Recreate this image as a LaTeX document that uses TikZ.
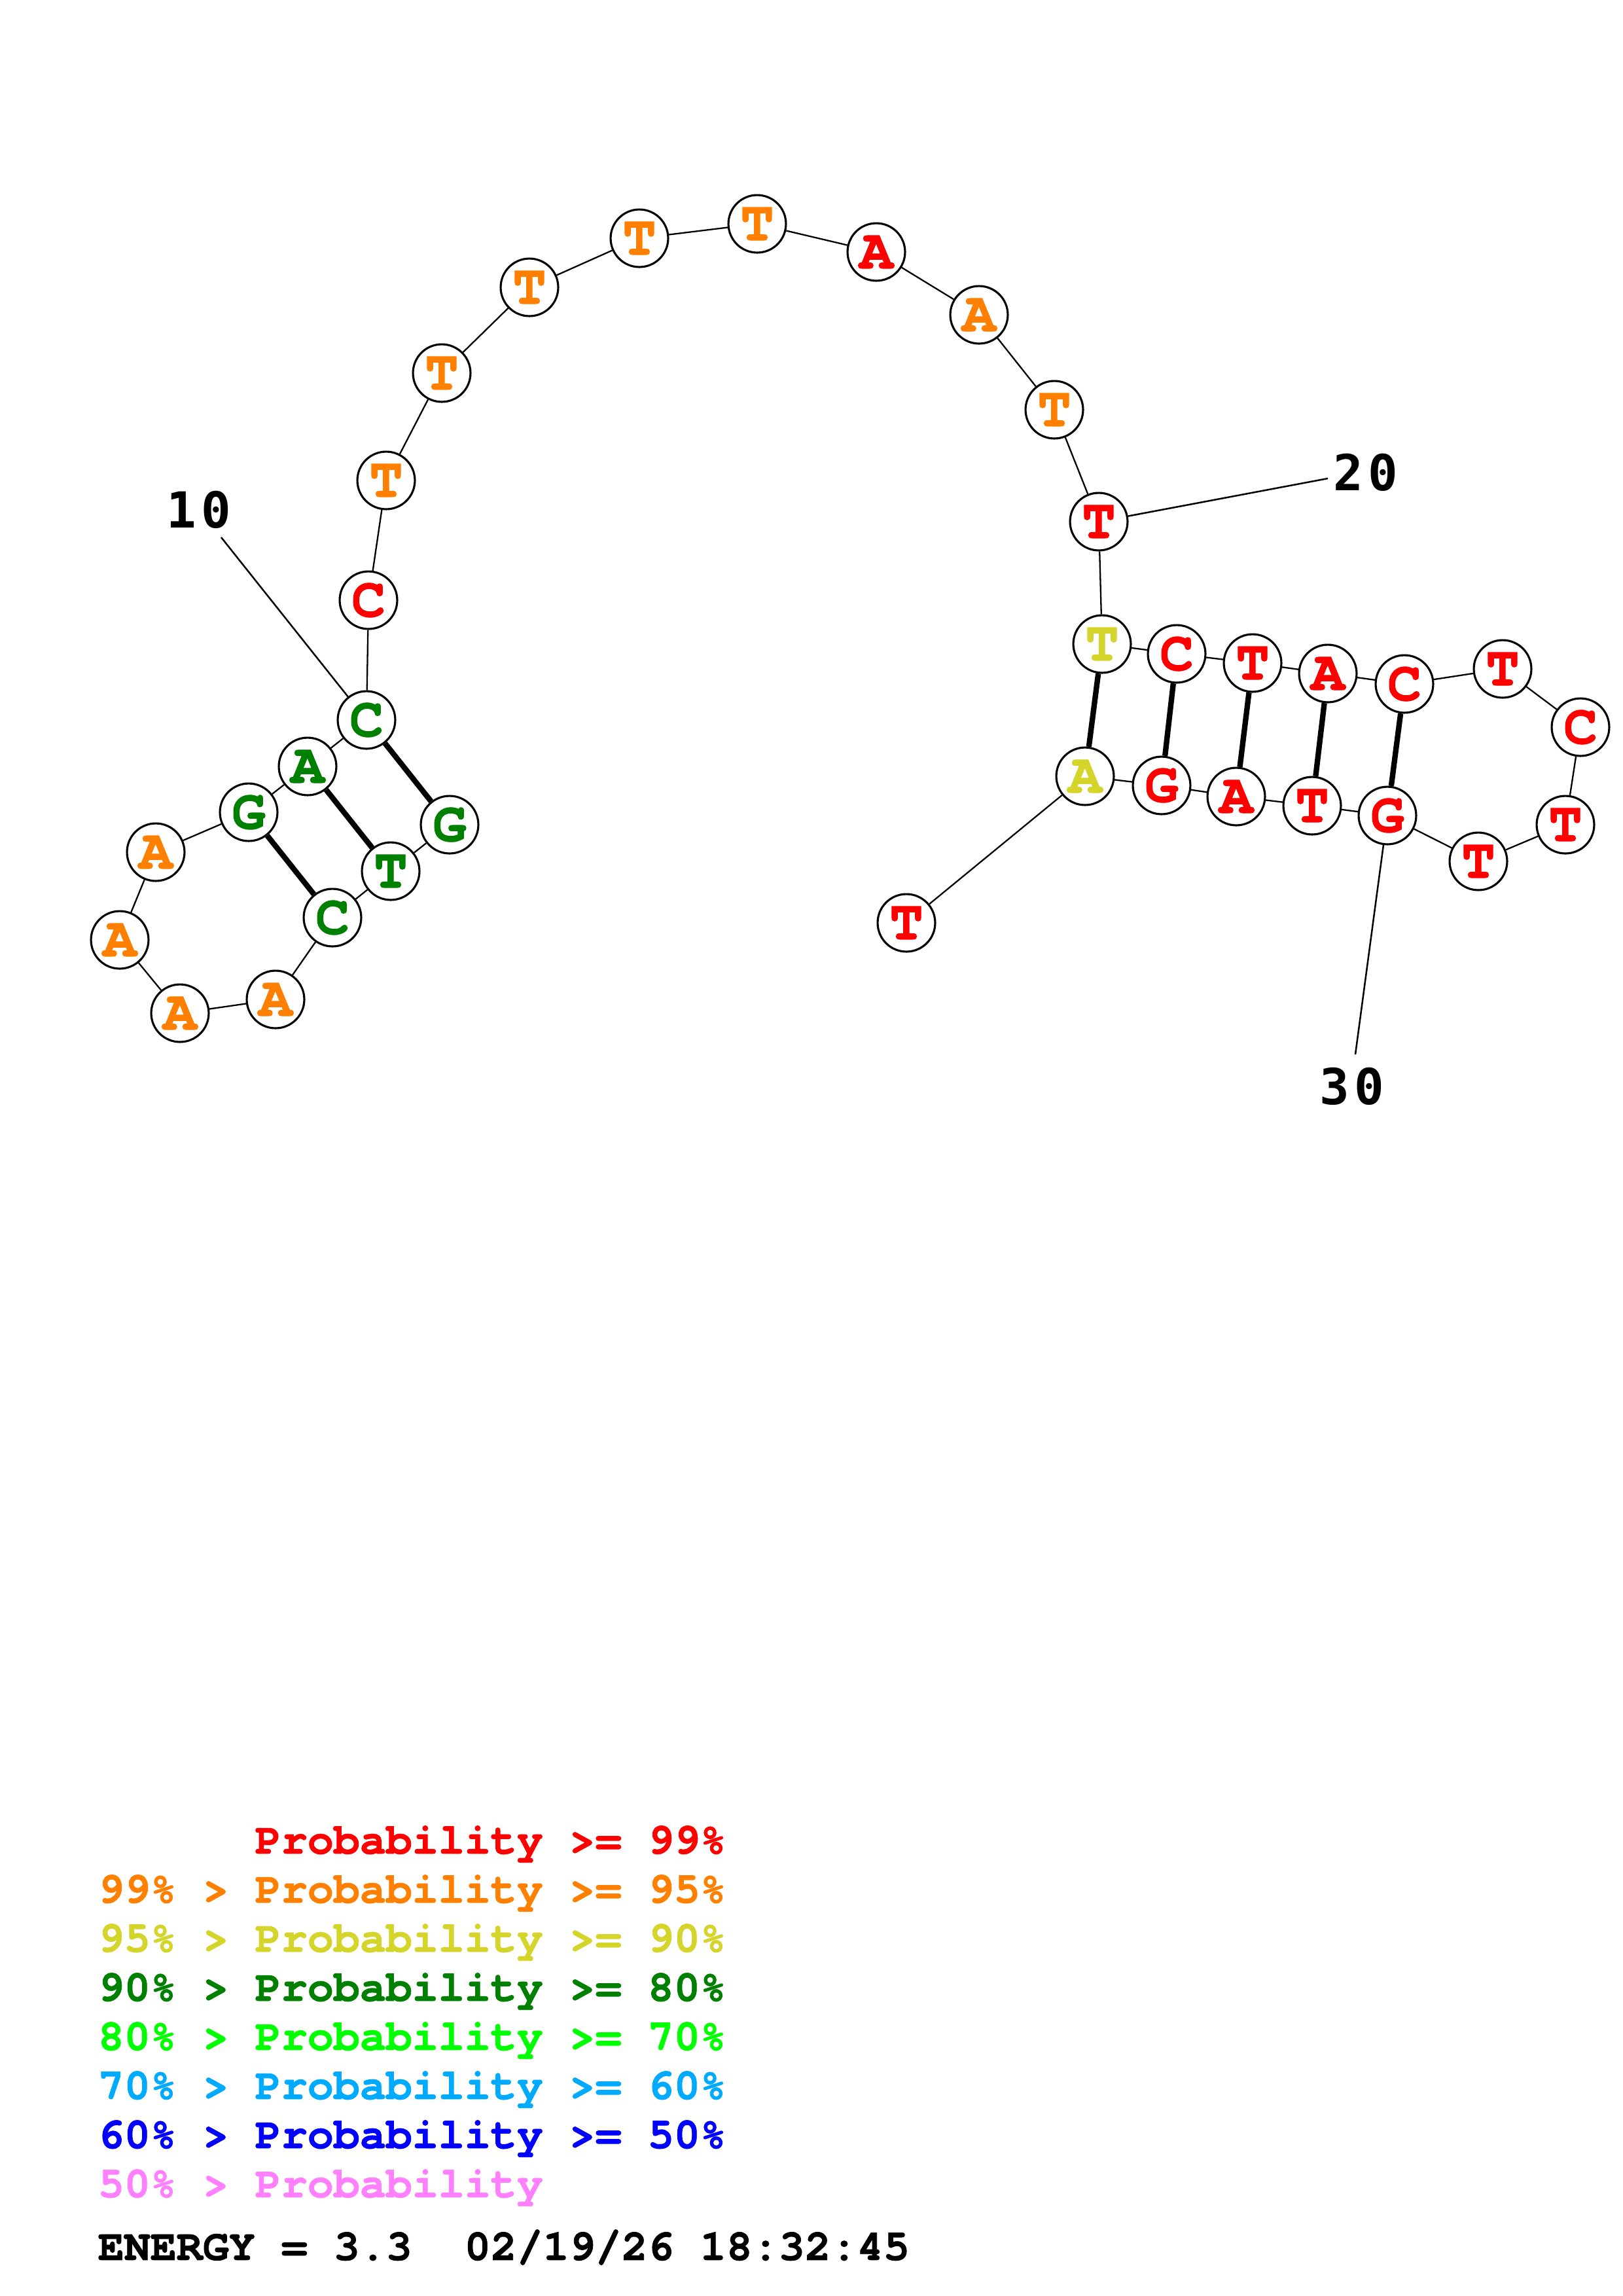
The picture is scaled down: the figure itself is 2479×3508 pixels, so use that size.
\documentclass[tikz,border=0pt]{standalone}
\usepackage{fontspec}
\usepackage{tikz}
\usetikzlibrary{positioning}
\newfontfamily\courierFont{TeX Gyre Cursor}[BoldFeatures={FakeBold=1.2}]
\newfontfamily\numberFont{DejaVu Sans Mono}[LetterSpace=10]
\definecolor{probRed}{RGB}{255,0,0}
\definecolor{probOrange}{RGB}{255,128,0}
\definecolor{probYellow}{RGB}{212,212,42}
\definecolor{probGreen}{RGB}{0,128,0}
\definecolor{probLime}{RGB}{0,255,0}
\definecolor{probSky}{RGB}{0,170,255}
\definecolor{probBlue}{RGB}{0,0,255}
\definecolor{probPink}{RGB}{255,128,255}
\tikzset{
   baseCircle/.style={draw=black, line width=0.75bp, fill=white, shape=circle, minimum size=21.1bp, inner sep=0mm, font={\courierFont\bfseries\fontsize{20.6bp}{24bp}\selectfont}},
   backboneLine/.style={draw=black, line width=0.55bp},
   pairLine/.style={draw=black, line width=2bp},
   labelLine/.style={draw=black, line width=0.6bp},
   numberLabel/.style={inner sep=0mm, font={\numberFont\bfseries\fontsize{18.2bp}{22bp}\selectfont}},
   legendLine/.style={inner sep=0mm, anchor=base west, font={\courierFont\bfseries\fontsize{16bp}{19bp}\selectfont}},
}

\begin{document}
\begin{tikzpicture}[x=0.24bp, y=-0.24bp]
  \useasboundingbox (0,0) rectangle (2479,3508);
  %
  % first hairpin
  \node[baseCircle, text=probGreen] (base1) at (687,1260) {G};
  \node[baseCircle, text=probGreen] (base2) at (597,1331) {T};
  \node[baseCircle, text=probGreen] (base3) at (508,1402) {C};
  \node[baseCircle, text=probOrange] (base4) at (421,1527) {A};
  \node[baseCircle, text=probOrange] (base5) at (275,1548) {A};
  \node[baseCircle, text=probOrange] (base6) at (183,1436) {A};
  \node[baseCircle, text=probOrange] (base7) at (238,1302) {A};
  \node[baseCircle, text=probGreen] (base8) at (380,1241) {G};
  \node[baseCircle, text=probGreen] (base9) at (470,1171) {A};
  \node[baseCircle, text=probGreen] (base10) at (560,1100) {C};
  %
  % open arc
  \node[baseCircle, text=probRed] (base11) at (563,917) {C};
  \node[baseCircle, text=probOrange] (base12) at (590,734) {T};
  \node[baseCircle, text=probOrange] (base13) at (675,570) {T};
  \node[baseCircle, text=probOrange] (base14) at (809,439) {T};
  \node[baseCircle, text=probOrange] (base15) at (977,364) {T};
  \node[baseCircle, text=probOrange] (base16) at (1157,342) {T};
  \node[baseCircle, text=probRed] (base17) at (1339,385) {A};
  \node[baseCircle, text=probOrange] (base18) at (1496,481) {A};
  \node[baseCircle, text=probOrange] (base19) at (1611,626) {T};
  \node[baseCircle, text=probRed] (base20) at (1679,797) {T};
  %
  % second hairpin
  \node[baseCircle, text=probYellow] (base21) at (1684,984) {T};
  \node[baseCircle, text=probRed] (base22) at (1798,999) {C};
  \node[baseCircle, text=probRed] (base23) at (1914,1013) {T};
  \node[baseCircle, text=probRed] (base24) at (2029,1029) {A};
  \node[baseCircle, text=probRed] (base25) at (2146,1045) {C};
  \node[baseCircle, text=probRed] (base26) at (2296,1022) {T};
  \node[baseCircle, text=probRed] (base27) at (2415,1111) {C};
  \node[baseCircle, text=probRed] (base28) at (2392,1260) {T};
  \node[baseCircle, text=probRed] (base29) at (2259,1316) {T};
  \node[baseCircle, text=probRed] (base30) at (2120,1246) {G};
  \node[baseCircle, text=probRed] (base31) at (2005,1231) {T};
  \node[baseCircle, text=probRed] (base32) at (1889,1217) {A};
  \node[baseCircle, text=probRed] (base33) at (1775,1200) {G};
  \node[baseCircle, text=probYellow] (base34) at (1658,1186) {A};
  \node[baseCircle, text=probRed] (base35) at (1385,1410) {T};
  %
  \draw[backboneLine] (base1) -- (base2) -- (base3) -- (base4) -- (base5) -- (base6) -- (base7)
     -- (base8) -- (base9) -- (base10) -- (base11) -- (base12) -- (base13) -- (base14)
     -- (base15) -- (base16) -- (base17) -- (base18) -- (base19) -- (base20) -- (base21)
     -- (base22) -- (base23) -- (base24) -- (base25) -- (base26) -- (base27) -- (base28)
     -- (base29) -- (base30) -- (base31) -- (base32) -- (base33) -- (base34) -- (base35);
  %
  \draw[pairLine] (base10) -- (base1);
  \draw[pairLine] (base9) -- (base2);
  \draw[pairLine] (base8) -- (base3);
  \draw[pairLine] (base21) -- (base34);
  \draw[pairLine] (base22) -- (base33);
  \draw[pairLine] (base23) -- (base32);
  \draw[pairLine] (base24) -- (base31);
  \draw[pairLine] (base25) -- (base30);
  %
  % position numbers
  \node[numberLabel] (label10) at (304,779) {10};
  \coordinate (label10End) at (338,821);
  \draw[labelLine] (label10End) -- (base10);
  \node[numberLabel] (label20) at (2087,722) {20};
  \coordinate (label20End) at (2029,731);
  \draw[labelLine] (label20End) -- (base20);
  \node[numberLabel] (label30) at (2066,1660) {30};
  \coordinate (label30End) at (2071,1611);
  \draw[labelLine] (label30End) -- (base30);
  %
  % legend
  \node[legendLine, text=probRed] (legend99) at (149,2832) {\hphantom{99\% > }Probability >= 99\%};
  \node[legendLine, text=probOrange, below=18bp of legend99.base west, anchor=base west] (legend95) {99\% > Probability >= 95\%};
  \node[legendLine, text=probYellow, below=18bp of legend95.base west, anchor=base west] (legend90) {95\% > Probability >= 90\%};
  \node[legendLine, text=probGreen, below=18bp of legend90.base west, anchor=base west] (legend80) {90\% > Probability >= 80\%};
  \node[legendLine, text=probLime, below=18bp of legend80.base west, anchor=base west] (legend70) {80\% > Probability >= 70\%};
  \node[legendLine, text=probSky, below=18bp of legend70.base west, anchor=base west] (legend60) {70\% > Probability >= 60\%};
  \node[legendLine, text=probBlue, below=18bp of legend60.base west, anchor=base west] (legend50) {60\% > Probability >= 50\%};
  \node[legendLine, text=probPink, below=18bp of legend50.base west, anchor=base west] (legend00) {50\% > Probability};
  \node[legendLine, text=black, below=23bp of legend00.base west, anchor=base west] (energyLine) {ENERGY = 3.3\ \ 02/19/26 18:32:45};
\end{tikzpicture}
\end{document}
